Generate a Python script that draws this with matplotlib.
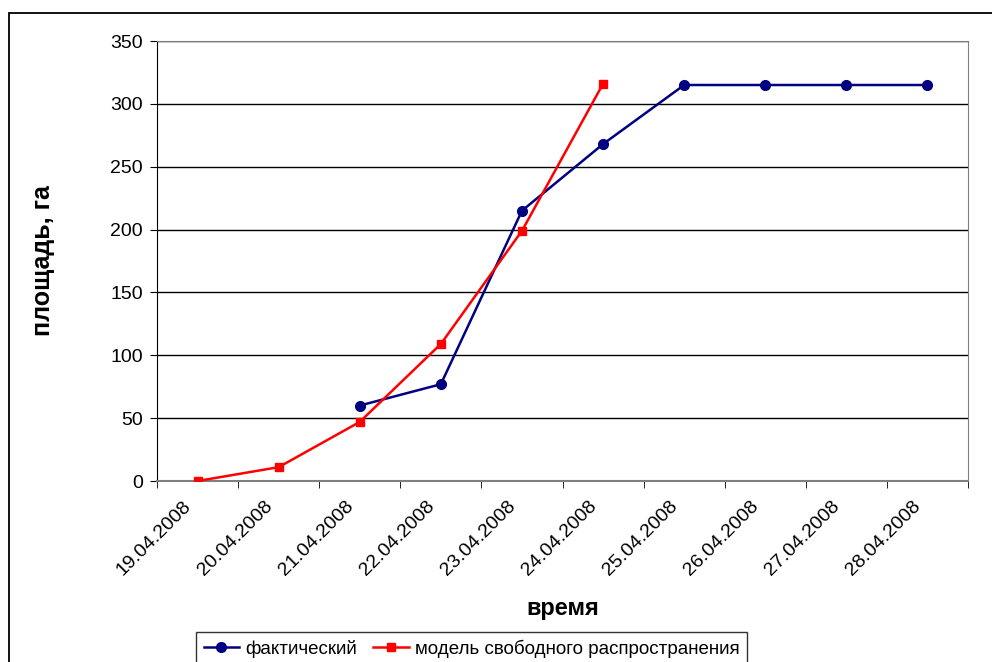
import matplotlib
matplotlib.use("Agg")
import matplotlib.pyplot as plt
from matplotlib.patches import Rectangle
from matplotlib.transforms import ScaledTranslation
import numpy as np

plt.rcParams['font.family'] = ['Liberation Sans', 'DejaVu Sans']

dates = ["19.04.2008", "20.04.2008", "21.04.2008", "22.04.2008", "23.04.2008",
         "24.04.2008", "25.04.2008", "26.04.2008", "27.04.2008", "28.04.2008"]
actual = [None, None, 60, 77, 215, 268, 315, 315, 315, 315]
model = [0, 11, 47, 109, 199, 316, None, None, None, None]

fig = plt.figure(figsize=(9.92, 6.62), dpi=100)
fig.patch.set_facecolor('white')

# chart frame
fig.patches.append(Rectangle((9 / 992, -0.1), 1.2, 1 - 13 / 662 + 0.1,
                             transform=fig.transFigure, fill=False,
                             edgecolor='black', linewidth=1.3))

ax = fig.add_axes([157 / 992, 1 - 481 / 662, 811 / 992, 440 / 662])

x = np.arange(len(dates))
ax_x = [i for i, v in zip(x, actual) if v is not None]
ax_y = [v for v in actual if v is not None]
mx_x = [i for i, v in zip(x, model) if v is not None]
mx_y = [v for v in model if v is not None]

ax.plot(ax_x, ax_y, color='#000080', linewidth=1.8, marker='o', markersize=7,
        label='фактический', zorder=4)
ax.plot(mx_x, mx_y, color='#ff0000', linewidth=1.8, marker='s', markersize=5.5,
        label='модель свободного распространения', zorder=5)

ax.set_xlim(-0.5, len(dates) - 0.5)
ax.set_ylim(0, 350)
ax.set_yticks(np.arange(0, 351, 50))
ax.yaxis.grid(True, color='black', linewidth=1)
ax.set_axisbelow(True)

ax.set_xticks(x)
ax.set_xticklabels(dates, rotation=45, ha='right', va='top',
                   rotation_mode='anchor', fontsize=14)
ax.set_xticks(np.arange(-0.5, len(dates), 1), minor=True)
ax.tick_params(axis='x', which='major', length=0, pad=12)
ax.tick_params(axis='x', which='minor', length=5, color='black')
ax.tick_params(axis='y', length=5, labelsize=14, color='black', pad=5)
shift = ScaledTranslation(-15 / 100, 0, fig.dpi_scale_trans)
for lbl in ax.get_xticklabels():
    lbl.set_transform(lbl.get_transform() + shift)

for side in ['top', 'right']:
    ax.spines[side].set_color('#808080')
ax.spines['bottom'].set_color('#808080')
ax.spines['bottom'].set_linewidth(1.5)
ax.spines['left'].set_color('black')

fig.text(563 / 992, 1 - 608 / 662, 'время', ha='center', va='center',
         fontsize=17, fontweight='bold')
fig.text(43 / 992, 1 - 261 / 662, 'площадь, га', ha='center', va='center',
         rotation=90, fontsize=18, fontweight='bold')

leg = fig.legend(loc='upper left', bbox_to_anchor=(196 / 992, 1 - 632 / 662),
                 ncol=2, frameon=True, fancybox=False, fontsize=13.5,
                 handlelength=1.9, handletextpad=0.3, columnspacing=0.9,
                 borderpad=0.4, borderaxespad=0)
leg.get_frame().set_edgecolor('black')
leg.get_frame().set_linewidth(1)

fig.savefig('out.png', dpi=100, facecolor='white')
